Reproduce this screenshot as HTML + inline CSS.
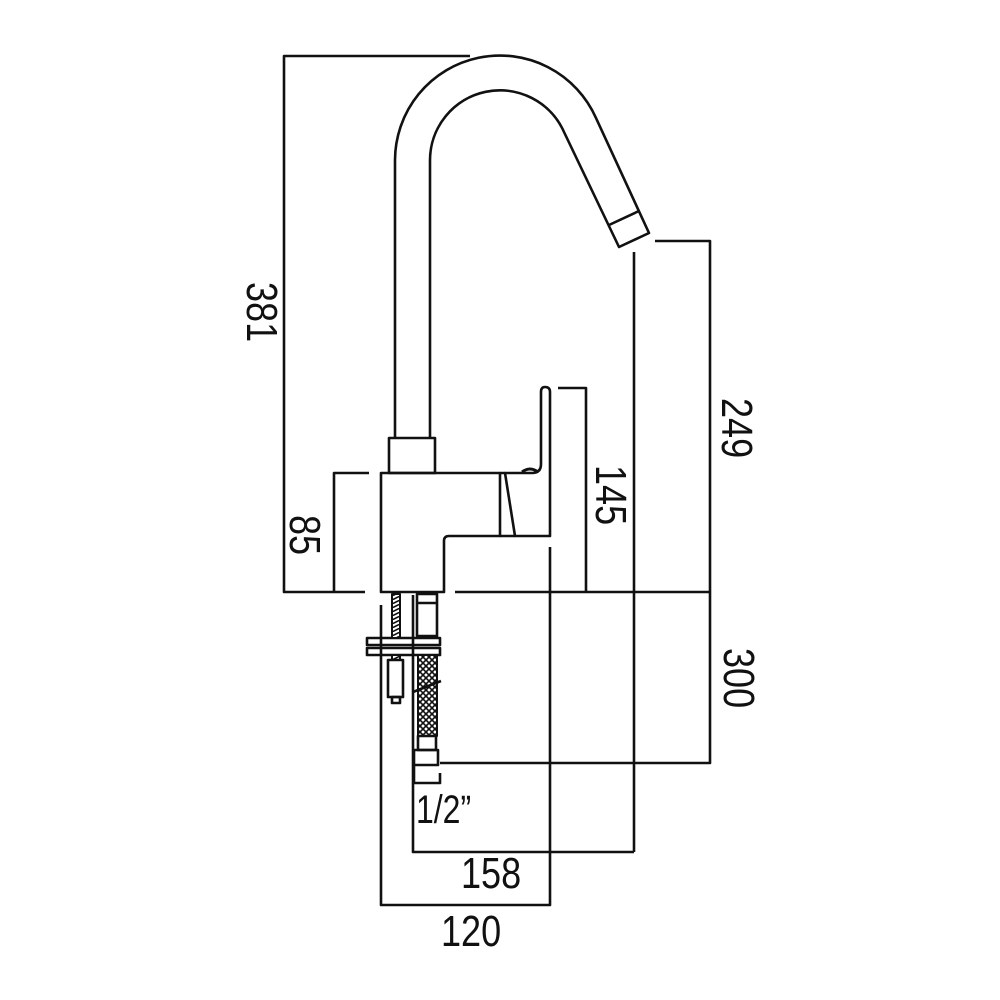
<!DOCTYPE html>
<html><head><meta charset="utf-8"><style>
html,body{margin:0;padding:0;background:#fff;}
svg{display:block;}
text{font-family:"Liberation Sans",sans-serif;font-size:44px;fill:#111;}
</style></head><body>
<svg width="1000" height="1000" viewBox="0 0 1000 1000" xmlns="http://www.w3.org/2000/svg">
<defs>
<pattern id="br" width="6" height="6" patternUnits="userSpaceOnUse">
<rect width="6" height="6" fill="#fff"/>
<path d="M0,0 L6,6 M6,0 L0,6" stroke="#111" stroke-width="1.6"/>
</pattern>
<pattern id="th" width="8" height="4" patternUnits="userSpaceOnUse">
<rect width="8" height="4" fill="#fff"/>
<path d="M0,4 L8,0" stroke="#111" stroke-width="1.6"/>
</pattern>
</defs>
<g fill="none" stroke="#111" stroke-width="2.6" stroke-linejoin="round">
<!-- spout -->
<path d="M395,438 L395,160 A105,105 0 0 1 596,118 L649,233 L619,247 L564,132 A70,70 0 0 0 430,160 L430,438"/>
<line x1="609" y1="225" x2="639" y2="211"/>
<!-- column block -->
<rect x="389" y="438" width="46" height="35"/>
<!-- body -->
<path d="M381,592 L381,473 L500,473 L500,536 L449,536 Q444,536 444,541 L444,592 Z"/>
<!-- handle -->
<path d="M541,392 Q541,387 545,387 Q550,387 550,392 L550,536 L515,536 L505,473 L532,473 Q541,473 541,464 Z"/>
<path d="M500,473 L505,473 M500,536 L515,536"/>
<path d="M522,472 Q530,466 538,472" stroke-width="3"/>
<!-- dimension lines -->
<polyline points="470,56 284,56 284,592 365,592"/>
<polyline points="369,473 334,473 334,592"/>
<line x1="455" y1="592" x2="710" y2="592"/>
<polyline points="558,388 586,388 586,592"/>
<polyline points="655,241 710,241 710,763 440,763"/>
<line x1="634" y1="252" x2="634" y2="852"/>
<polyline points="413,595 413,852 634,852"/>
<polyline points="381,605 381,905 550,905 550,547"/>
<!-- washers -->
<rect x="367" y="638" width="73" height="7"/>
<rect x="367" y="648" width="73" height="7"/>
<!-- rod & nut -->
<rect x="392" y="594" width="8" height="44" fill="url(#th)" stroke-width="2"/>
<rect x="392" y="655" width="8" height="5" fill="url(#th)" stroke-width="2"/>
<rect x="388" y="660" width="15" height="37"/>
<rect x="392" y="697" width="8" height="6"/>
<!-- hose -->
<rect x="417" y="594" width="20" height="42"/>
<line x1="417" y1="603" x2="437" y2="603"/>
<rect x="418" y="655" width="19" height="81" fill="url(#br)" stroke-width="2"/>
<line x1="413" y1="692" x2="441" y2="681"/>
<rect x="418" y="736" width="18" height="14"/>
<rect x="414" y="750" width="24" height="15"/>
<path d="M414,765 L414,783 L440,783 L440,773"/>
</g>
<text transform="translate(247,282) rotate(90) scale(0.82,1)">381</text>
<text transform="translate(290,515) rotate(90) scale(0.82,1)">85</text>
<text transform="translate(596,465) rotate(90) scale(0.82,1)">145</text>
<text transform="translate(722,398) rotate(90) scale(0.82,1)">249</text>
<text transform="translate(724,648) rotate(90) scale(0.82,1)">300</text>
<text transform="translate(461,888) scale(0.82,1)">158</text>
<text transform="translate(441,946) scale(0.82,1)">120</text>
<text transform="translate(416,823) scale(0.8,1)" style="font-size:40px">1/2”</text>
</svg>
</body></html>
